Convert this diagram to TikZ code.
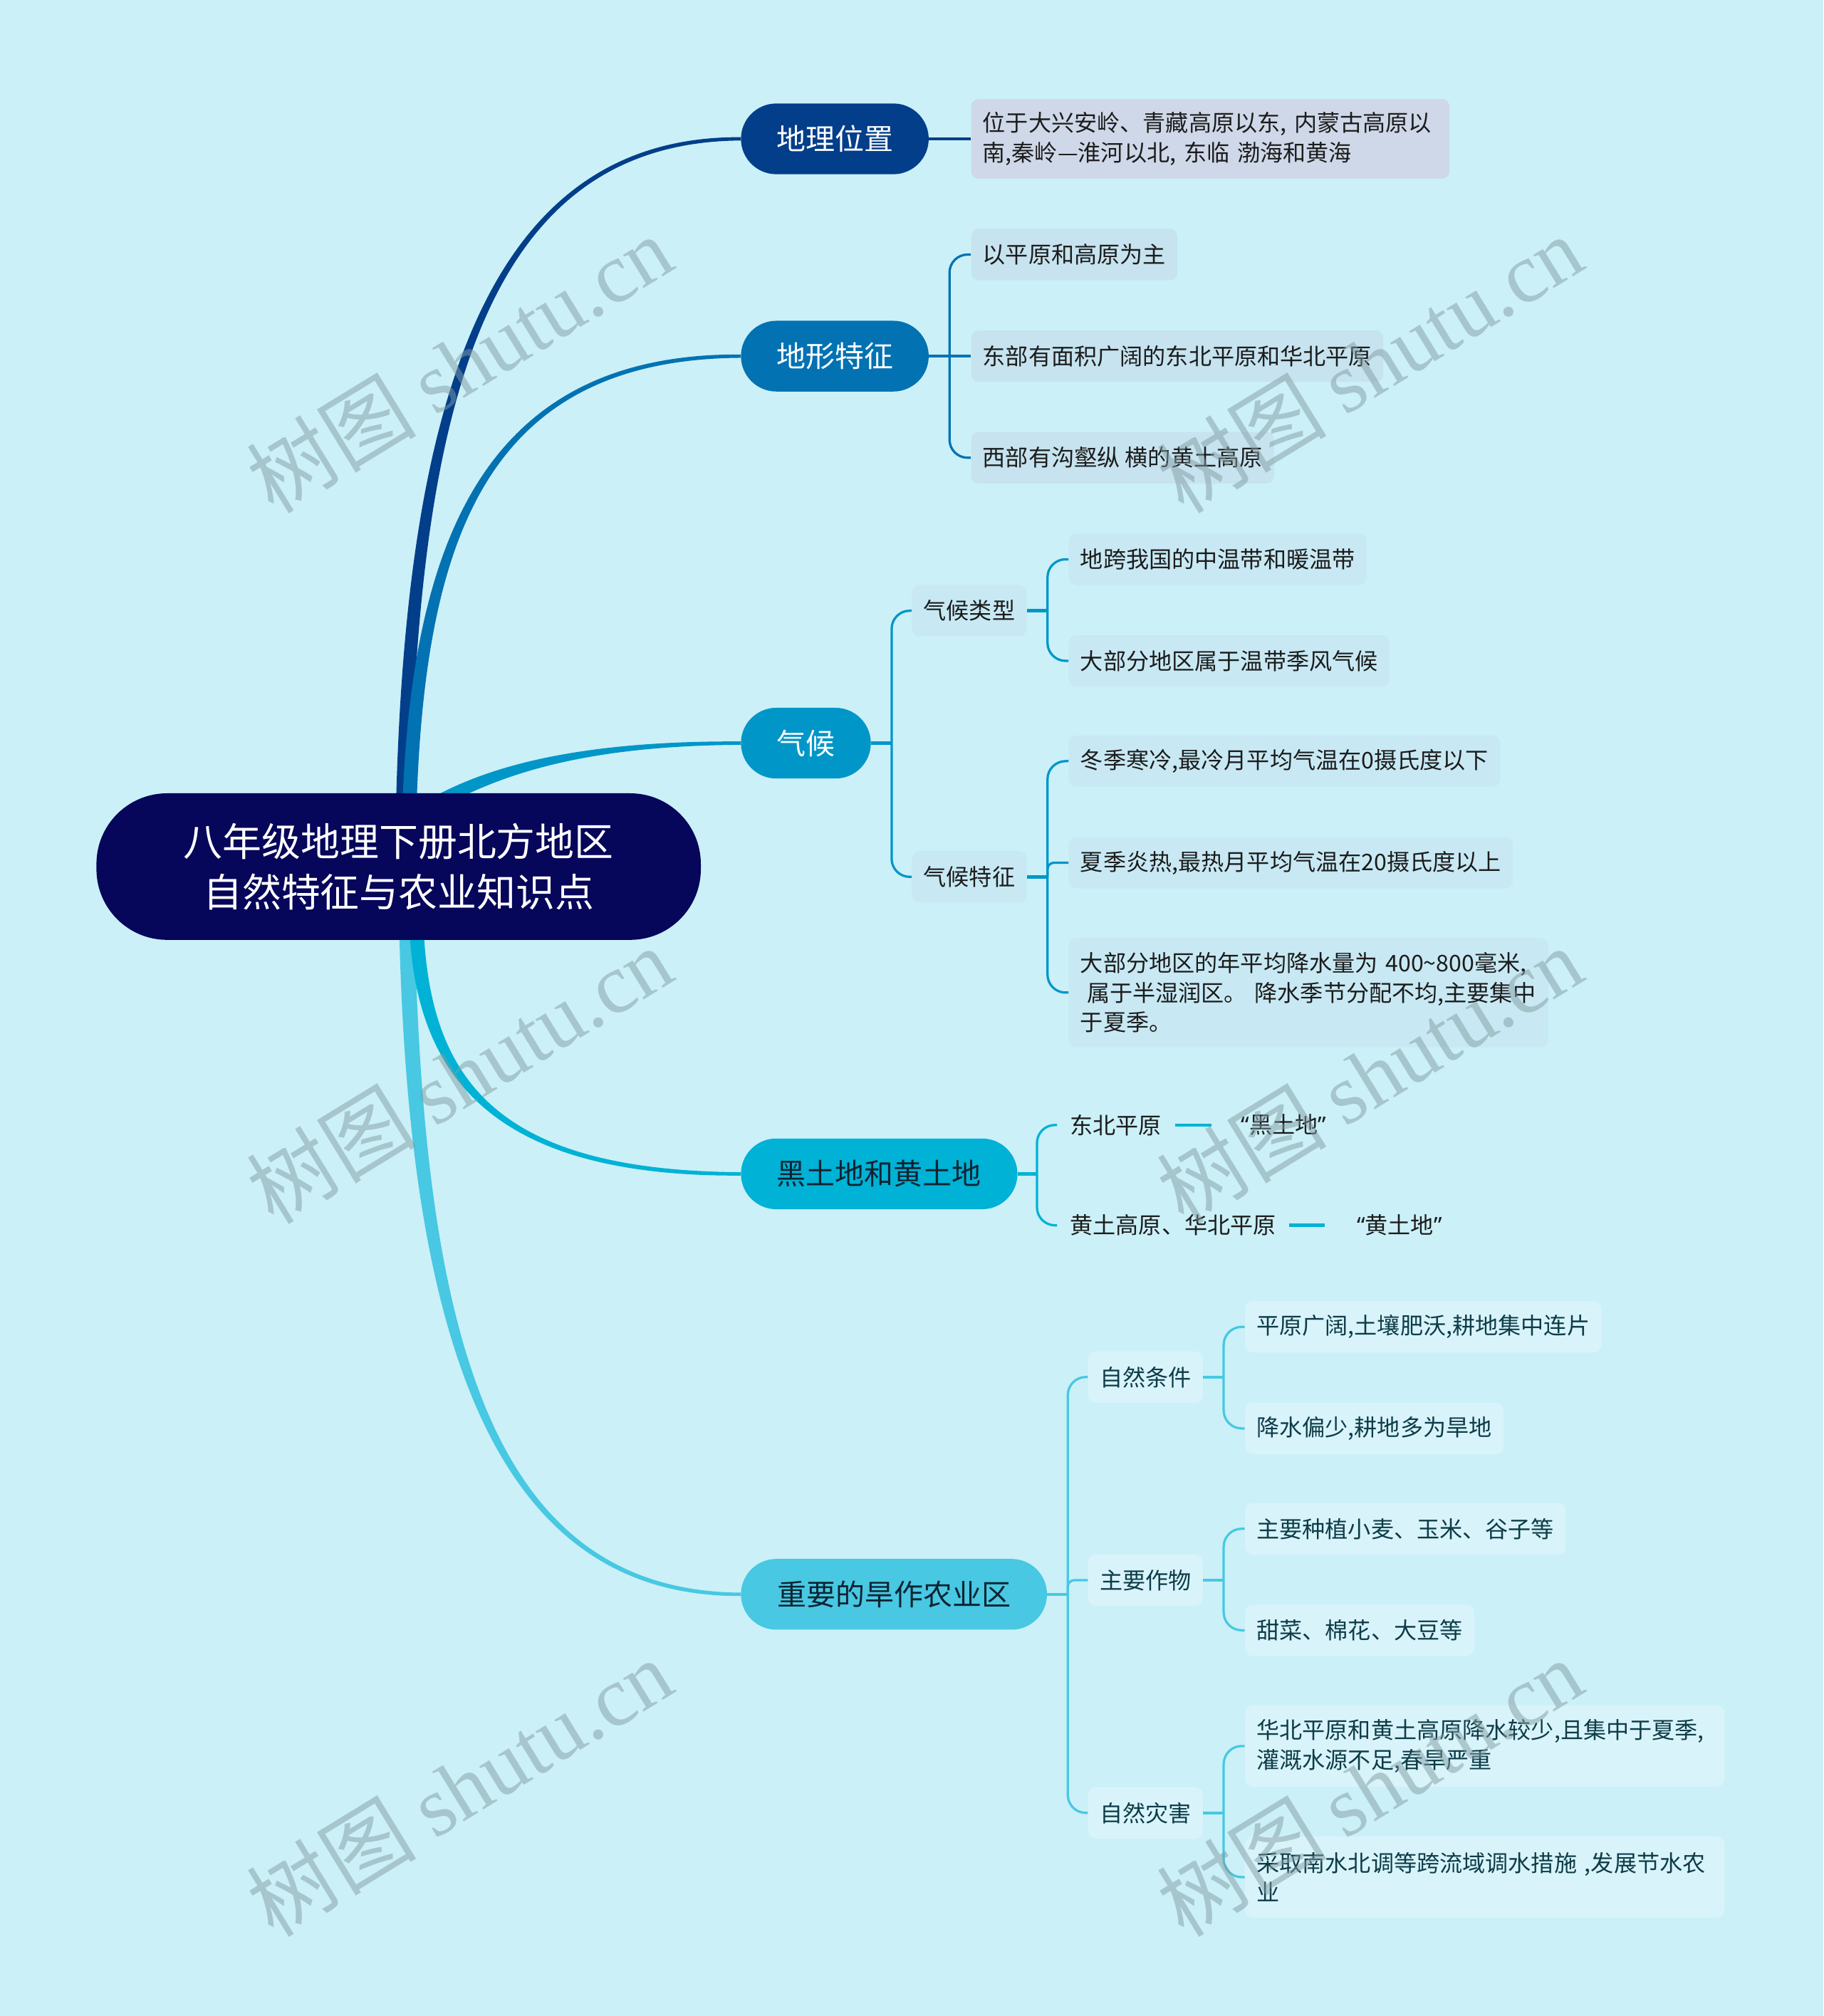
\documentclass[tikz,border=0pt]{standalone}
\usepackage{fontspec}
\setmainfont{Noto Sans CJK SC}
\newfontfamily\wmfont{Liberation Serif}
\newfontfamily\qfont{Noto Sans}
\usetikzlibrary{calc}
\pgfdeclarelayer{bg}
\pgfsetlayers{bg,main}
\definecolor{bgc}{RGB}{203,240,248}
\definecolor{rootc}{RGB}{6,6,90}
\definecolor{ca}{RGB}{3,62,138}
\definecolor{cb}{RGB}{2,114,178}
\definecolor{cc}{RGB}{0,150,200}
\definecolor{cd}{RGB}{0,178,213}
\definecolor{ce}{RGB}{72,200,226}
\definecolor{fa}{RGB}{207,216,232}
\definecolor{fb}{RGB}{198,227,239}
\definecolor{fc}{RGB}{200,233,244}
\definecolor{fe}{RGB}{216,244,250}
\definecolor{te}{RGB}{14,60,72}
\definecolor{tdark}{RGB}{28,28,28}
\definecolor{tpill}{RGB}{14,36,50}
\definecolor{wmc}{RGB}{130,156,162}
\newcommand\myLQ{{\qfont “}}
\newcommand\myRQ{{\qfont ”}}
\tikzset{
  rootbox/.style={fill=rootc, rounded corners=55pt, minimum width=470pt, minimum height=114pt,
    inner sep=0pt, text=white, align=center, font=\fontsize{30.4}{39}\selectfont},
  pill/.style={rounded corners=27.5pt, minimum height=55pt, inner sep=0pt, anchor=west,
    font=\fontsize{22.7}{27}\selectfont},
  sbox/.style={rounded corners=6pt, minimum height=40pt, inner xsep=9pt, inner ysep=0pt,
    anchor=west, font=\fontsize{17.8}{23}\selectfont, text=tdark},
  mbox/.style={sbox, align=left, text width=355pt},
  htxt/.style={inner xsep=10pt, inner ysep=0pt, minimum height=40pt, anchor=west,
    font=\fontsize{17.8}{23}\selectfont, text=tdark},
  br/.style={line width=1.8pt, rounded corners=14pt},
  stub/.style={line width=2.4pt},
  wmark/.style={text=wmc, text opacity=0.5, rotate=31.5, inner sep=0pt,
    font=\fontsize{66}{68}\selectfont},
}
\begin{document}
\begin{tikzpicture}[x=1pt,y=-1pt]
% nodes
\node[rootbox] (root) at (310,674) {八年级地理下册北方地区\\自然特征与农业知识点};
\node[pill, fill=ca, text=white, minimum width=146pt] (geo) at (576,108) {地理位置};
\node[pill, fill=cb, text=white, minimum width=146pt] (dx) at (576,277) {地形特征};
\node[pill, fill=cc, text=white, minimum width=101pt] (qh) at (576,578) {气候};
\node[pill, fill=cd, text=tpill, minimum width=215pt] (ht) at (576,913) {黑土地和黄土地};
\node[pill, fill=ce, text=tpill, minimum width=238pt] (zy) at (576,1240) {重要的旱作农业区};

\node[mbox, fill=fa, text width=354pt, minimum height=62pt] (geo1) at (755,108)
  {\mbox{位于大兴安岭、青藏高原以东, 内蒙古高原以}\\\mbox{南,秦岭—淮河以北, 东临 渤海和黄海}};

\node[sbox, fill=fb] (dx1) at (755,198) {以平原和高原为主};
\node[sbox, fill=fb] (dx2) at (755,277) {东部有面积广阔的东北平原和华北平原};
\node[sbox, fill=fb] (dx3) at (755,356) {西部有沟壑纵 横的黄土高原};

\node[sbox, fill=fc] (qh1) at (709,475) {气候类型};
\node[sbox, fill=fc] (qh2) at (709,682) {气候特征};
\node[sbox, fill=fc] (lx1) at (831,435) {地跨我国的中温带和暖温带};
\node[sbox, fill=fc] (lx2) at (831,514) {大部分地区属于温带季风气候};
\node[sbox, fill=fc] (tz1) at (831,592) {冬季寒冷,最冷月平均气温在0摄氏度以下};
\node[sbox, fill=fc] (tz2) at (831,671) {夏季炎热,最热月平均气温在20摄氏度以上};
\node[mbox, fill=fc, minimum height=85pt] (tz3) at (831,772)
  {\mbox{大部分地区的年平均降水量为 400\textasciitilde800毫米,}\\\mbox{\hspace*{5pt}属于半湿润区。 降水季节分配不均,主要集中}\\\mbox{于夏季。}};

\node[htxt] (ht1) at (822,875) {东北平原};
\node[htxt, inner xsep=19pt] (hq1) at (946,875) {\myLQ 黑土地\myRQ};
\node[htxt] (ht2) at (822,953) {黄土高原、华北平原};
\node[htxt, inner xsep=21pt] (hq2) at (1034,953) {\myLQ 黄土地\myRQ};

\node[sbox, fill=fe, text=te] (zy1) at (846,1071) {自然条件};
\node[sbox, fill=fe, text=te] (zy2) at (846,1229) {主要作物};
\node[sbox, fill=fe, text=te] (zy3) at (846,1410) {自然灾害};
\node[sbox, fill=fe, text=te] (c1) at (968,1032) {平原广阔,土壤肥沃,耕地集中连片};
\node[sbox, fill=fe, text=te] (c2) at (968,1111) {降水偏少,耕地多为旱地};
\node[sbox, fill=fe, text=te] (c3) at (968,1189) {主要种植小麦、玉米、谷子等};
\node[sbox, fill=fe, text=te] (c4) at (968,1268) {甜菜、棉花、大豆等};
\node[mbox, fill=fe, text=te, minimum height=63pt] (c5) at (968,1358)
  {\mbox{华北平原和黄土高原降水较少,且集中于夏季,}\\\mbox{灌溉水源不足,春旱严重}};
\node[mbox, fill=fe, text=te, minimum height=63pt] (c6) at (968,1460)
  {\mbox{采取南水北调等跨流域调水措施 ,发展节水农}\\\mbox{业}};

% junctions
\coordinate (jdx) at ($(dx.east)+(16,0)$);
\coordinate (jqh) at ($(qh.east)+(16,0)$);
\coordinate (jlx) at ($(qh1.east)+(16,0)$);
\coordinate (jtz) at ($(qh2.east)+(16,0)$);
\coordinate (jht) at ($(ht.east)+(15,0)$);
\coordinate (jzy) at ($(zy.east)+(16,0)$);
\coordinate (jc1) at ($(zy1.east)+(16,0)$);
\coordinate (jc2) at ($(zy2.east)+(16,0)$);
\coordinate (jc3) at ($(zy3.east)+(16,0)$);

\begin{pgfonlayer}{bg}
\fill[bgc] (0,0) rectangle (1418,1568);
% tapered main branches
\fill[ca] ($(root.north)+(-2,8)$) .. controls (316,311) and (379,105.5) .. ($(geo.west)+(0,-1.3)$)
  -- ($(geo.west)+(0,1.3)$) .. controls (379,110.5) and (326,311) .. ($(root.north)+(9,8)$) -- cycle;
\fill[cb] ($(root.north)+(3,8)$) .. controls (321,413) and (382,274.5) .. ($(dx.west)+(0,-1.3)$)
  -- ($(dx.west)+(0,1.3)$) .. controls (382,279.5) and (331,413) .. ($(root.north)+(14,8)$) -- cycle;
\fill[cc] ($(root.north)+(29,2)$) .. controls (382,596) and (450,576) .. ($(qh.west)+(0,-1.3)$)
  -- ($(qh.west)+(0,1.3)$) .. controls (450,580) and (388,604) .. ($(root.north)+(35,10)$) -- cycle;
\fill[ce] ($(root.south)+(0.5,-7)$) .. controls (318,1036) and (381,1242.5) .. ($(zy.west)+(0,1.3)$)
  -- ($(zy.west)+(0,-1.3)$) .. controls (381,1237.5) and (330,1036) .. ($(root.south)+(12.5,-7)$) -- cycle;
\fill[cd] ($(root.south)+(8.5,-7)$) .. controls (324.5,840) and (386,915.5) .. ($(ht.west)+(0,1.3)$)
  -- ($(ht.west)+(0,-1.3)$) .. controls (386,910.5) and (335.5,840) .. ($(root.south)+(19.5,-7)$) -- cycle;

% 地理位置
\draw[stub,ca] (geo.east) -- (geo1.west);
% 地形特征
\draw[stub,cb] (dx.east) -- (jdx);
\draw[br,cb] (jdx) |- (dx1.west);
\draw[br,cb] (jdx) -- (dx2.west);
\draw[br,cb] (jdx) |- (dx3.west);
% 气候
\draw[stub,cc] (qh.east) -- (jqh);
\draw[br,cc] (jqh) |- (qh1.west);
\draw[br,cc] (jqh) |- (qh2.west);
\draw[stub,cc] (qh1.east) -- (jlx);
\draw[br,cc] (jlx) |- (lx1.west);
\draw[br,cc] (jlx) |- (lx2.west);
\draw[stub,cc] (qh2.east) -- (jtz);
\draw[br,cc] (jtz) |- (tz1.west);
\draw[br,cc,rounded corners=5pt] (jtz) |- (tz2.west);
\draw[br,cc] (jtz) |- (tz3.west);
% 黑土地和黄土地
\draw[stub,cd] (ht.east) -- (jht);
\draw[br,cd] (jht) |- (ht1.west);
\draw[br,cd] (jht) |- (ht2.west);
\draw[stub,cd] (ht1.east) -- ($(hq1.west)+(-4,0)$);
\draw[stub,cd] (ht2.east) -- ($(hq2.west)+(-4,0)$);
% 重要的旱作农业区
\draw[stub,ce] (zy.east) -- (jzy);
\draw[br,ce] (jzy) |- (zy1.west);
\draw[br,ce,rounded corners=5pt] (jzy) |- (zy2.west);
\draw[br,ce] (jzy) |- (zy3.west);
\draw[stub,ce] (zy1.east) -- (jc1);
\draw[br,ce] (jc1) |- (c1.west);
\draw[br,ce] (jc1) |- (c2.west);
\draw[stub,ce] (zy2.east) -- (jc2);
\draw[br,ce] (jc2) |- (c3.west);
\draw[br,ce] (jc2) |- (c4.west);
\draw[stub,ce] (zy3.east) -- (jc3);
\draw[br,ce] (jc3) |- (c5.west);
\draw[br,ce] (jc3) |- (c6.west);
\end{pgfonlayer}

% watermarks
\node[wmark] (wm1) at (357,283) {树图 {\wmfont shutu.cn}};
\node[wmark] (wm2) at (1065,283) {树图 {\wmfont shutu.cn}};
\node[wmark] (wm3) at (357,836) {树图 {\wmfont shutu.cn}};
\node[wmark] (wm4) at (1065,836) {树图 {\wmfont shutu.cn}};
\node[wmark] (wm5) at (357,1390) {树图 {\wmfont shutu.cn}};
\node[wmark] (wm6) at (1065,1390) {树图 {\wmfont shutu.cn}};
\end{tikzpicture}
\end{document}
